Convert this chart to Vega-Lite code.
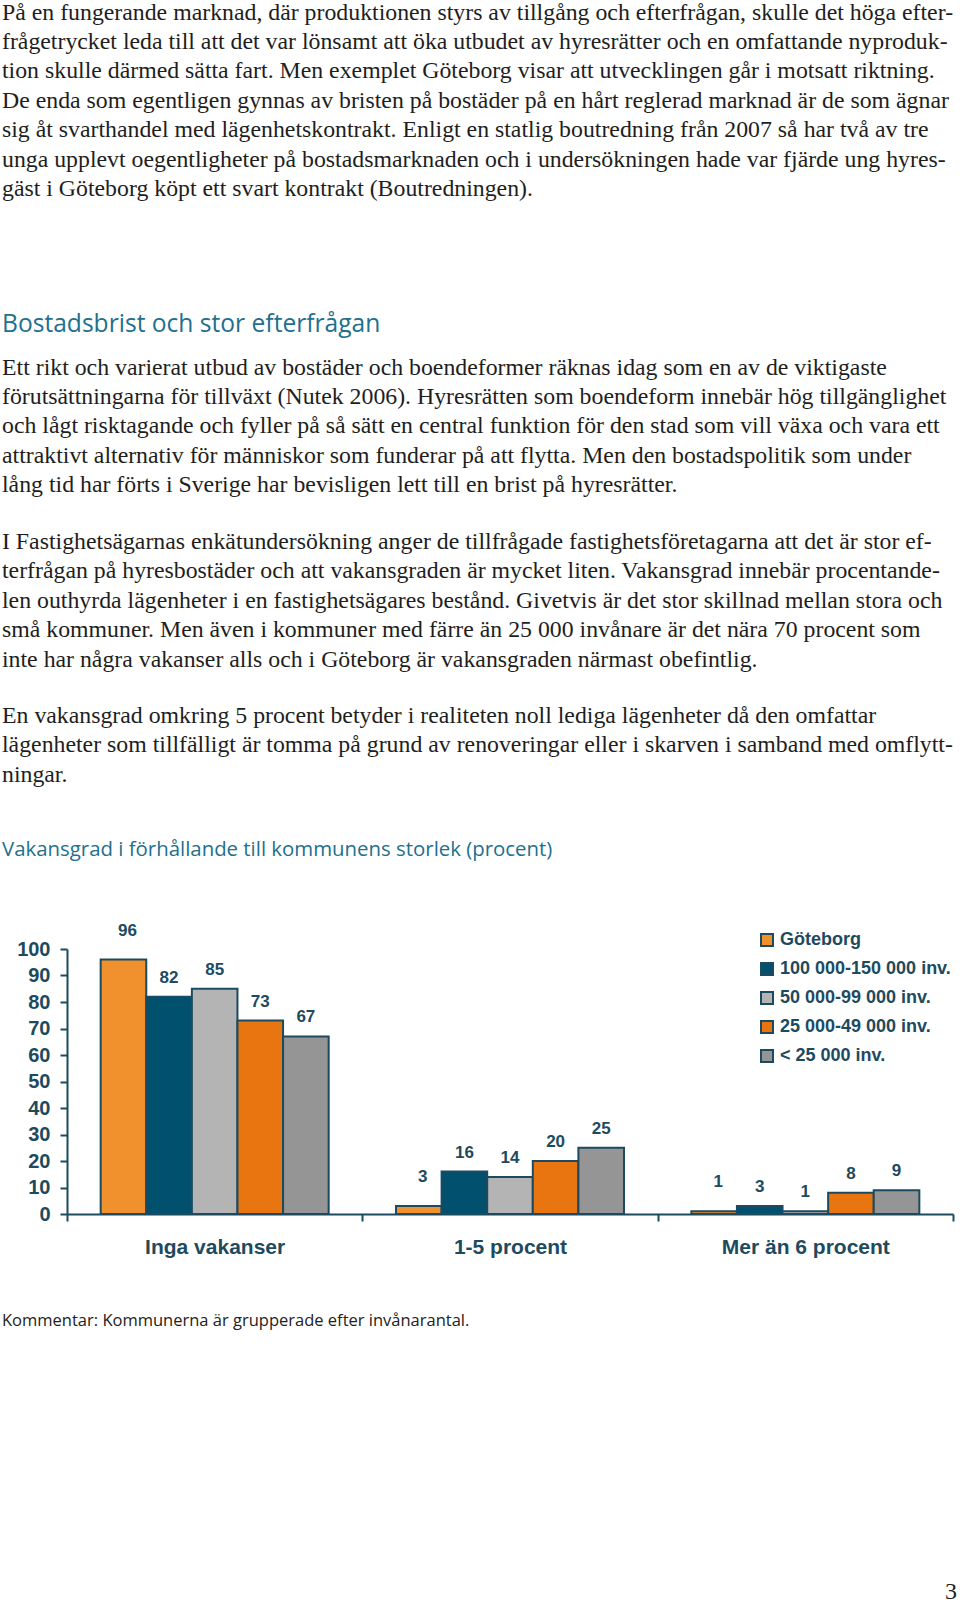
{
  "$schema": "https://vega.github.io/schema/vega-lite/v6.json",
  "padding": 0,
  "background": "white",
  "spacing": 0,
  "bounds": "flush",
  "config": {"view": {"stroke": null}, "concat": {"spacing": 0}},
  "datasets": {
    "prosa": [
      {"block": "p1", "line": 1, "text": "På en fungerande marknad, där produktionen styrs av tillgång och efterfrågan, skulle det höga efter-"},
      {"block": "p1", "line": 2, "text": "frågetrycket leda till att det var lönsamt att öka utbudet av hyresrätter och en omfattande nyproduk-"},
      {"block": "p1", "line": 3, "text": "tion skulle därmed sätta fart. Men exemplet Göteborg visar att utvecklingen går i motsatt riktning."},
      {"block": "p1", "line": 4, "text": "De enda som egentligen gynnas av bristen på bostäder på en hårt reglerad marknad är de som ägnar"},
      {"block": "p1", "line": 5, "text": "sig åt svarthandel med lägenhetskontrakt. Enligt en statlig boutredning från 2007 så har två av tre"},
      {"block": "p1", "line": 6, "text": "unga upplevt oegentligheter på bostadsmarknaden och i undersökningen hade var fjärde ung hyres-"},
      {"block": "p1", "line": 7, "text": "gäst i Göteborg köpt ett svart kontrakt (Boutredningen)."},
      {"block": "rubrik", "line": 1, "text": "Bostadsbrist och stor efterfrågan"},
      {"block": "p2", "line": 1, "text": "Ett rikt och varierat utbud av bostäder och boendeformer räknas idag som en av de viktigaste"},
      {"block": "p2", "line": 2, "text": "förutsättningarna för tillväxt (Nutek 2006). Hyresrätten som boendeform innebär hög tillgänglighet"},
      {"block": "p2", "line": 3, "text": "och lågt risktagande och fyller på så sätt en central funktion för den stad som vill växa och vara ett"},
      {"block": "p2", "line": 4, "text": "attraktivt alternativ för människor som funderar på att flytta. Men den bostadspolitik som under"},
      {"block": "p2", "line": 5, "text": "lång tid har förts i Sverige har bevisligen lett till en brist på hyresrätter."},
      {"block": "p3", "line": 1, "text": "I Fastighetsägarnas enkätundersökning anger de tillfrågade fastighetsföretagarna att det är stor ef-"},
      {"block": "p3", "line": 2, "text": "terfrågan på hyresbostäder och att vakansgraden är mycket liten. Vakansgrad innebär procentande-"},
      {"block": "p3", "line": 3, "text": "len outhyrda lägenheter i en fastighetsägares bestånd. Givetvis är det stor skillnad mellan stora och"},
      {"block": "p3", "line": 4, "text": "små kommuner. Men även i kommuner med färre än 25 000 invånare är det nära 70 procent som"},
      {"block": "p3", "line": 5, "text": "inte har några vakanser alls och i Göteborg är vakansgraden närmast obefintlig."},
      {"block": "p4", "line": 1, "text": "En vakansgrad omkring 5 procent betyder i realiteten noll lediga lägenheter då den omfattar"},
      {"block": "p4", "line": 2, "text": "lägenheter som tillfälligt är tomma på grund av renoveringar eller i skarven i samband med omflytt-"},
      {"block": "p4", "line": 3, "text": "ningar."},
      {"block": "diagramrubrik", "line": 1, "text": "Vakansgrad i förhållande till kommunens storlek (procent)"}
    ],
    "fot": [
      {"block": "kommentar", "line": 1, "text": "Kommentar: Kommunerna är grupperade efter invånarantal."},
      {"block": "sidnummer", "line": 1, "text": "3"}
    ],
    "vakans": [
      {"grupp": "Inga vakanser", "serie": "Göteborg", "procent": 96},
      {"grupp": "Inga vakanser", "serie": "100 000-150 000 inv.", "procent": 82},
      {"grupp": "Inga vakanser", "serie": "50 000-99 000 inv.", "procent": 85},
      {"grupp": "Inga vakanser", "serie": "25 000-49 000 inv.", "procent": 73},
      {"grupp": "Inga vakanser", "serie": "< 25 000 inv.", "procent": 67},
      {"grupp": "1-5 procent", "serie": "Göteborg", "procent": 3},
      {"grupp": "1-5 procent", "serie": "100 000-150 000 inv.", "procent": 16},
      {"grupp": "1-5 procent", "serie": "50 000-99 000 inv.", "procent": 14},
      {"grupp": "1-5 procent", "serie": "25 000-49 000 inv.", "procent": 20},
      {"grupp": "1-5 procent", "serie": "< 25 000 inv.", "procent": 25},
      {"grupp": "Mer än 6 procent", "serie": "Göteborg", "procent": 1},
      {"grupp": "Mer än 6 procent", "serie": "100 000-150 000 inv.", "procent": 3},
      {"grupp": "Mer än 6 procent", "serie": "50 000-99 000 inv.", "procent": 1},
      {"grupp": "Mer än 6 procent", "serie": "25 000-49 000 inv.", "procent": 8},
      {"grupp": "Mer än 6 procent", "serie": "< 25 000 inv.", "procent": 9}
    ]
  },
  "vconcat": [
    {
      "width": 960,
      "height": 949,
      "data": {"name": "prosa"},
      "resolve": {"scale": {"y": "independent"}},
      "layer": [
        {
          "transform": [{"filter": "datum.block === 'p1'"}],
          "mark": {"type": "text", "align": "left", "baseline": "alphabetic", "font": "Liberation Serif", "fontSize": 23.8, "color": "#1e1e1e", "dx": 2},
          "encoding": {
            "x": {"datum": 0, "type": "quantitative", "scale": {"domain": [0, 1]}, "axis": null},
            "y": {"field": "line", "type": "quantitative", "scale": {"domain": [0.33786, 32.56196], "reverse": true, "nice": false, "zero": false}, "axis": null},
            "text": {"field": "text", "type": "nominal"}
          }
        },
        {
          "transform": [{"filter": "datum.block === 'rubrik'"}],
          "mark": {"type": "text", "align": "left", "baseline": "alphabetic", "font": "Open Sans", "fontSize": 24.6, "color": "#226f8e", "dx": 2},
          "encoding": {
            "x": {"datum": 0, "type": "quantitative", "scale": {"domain": [0, 1]}, "axis": null},
            "y": {"field": "line", "type": "quantitative", "scale": {"domain": [-10.25637, 21.96773], "reverse": true, "nice": false, "zero": false}, "axis": null},
            "text": {"field": "text", "type": "nominal"}
          }
        },
        {
          "transform": [{"filter": "datum.block === 'p2'"}],
          "mark": {"type": "text", "align": "left", "baseline": "alphabetic", "font": "Liberation Serif", "fontSize": 23.8, "color": "#1e1e1e", "dx": 2},
          "encoding": {
            "x": {"datum": 0, "type": "quantitative", "scale": {"domain": [0, 1]}, "axis": null},
            "y": {"field": "line", "type": "quantitative", "scale": {"domain": [-11.71647, 20.50763], "reverse": true, "nice": false, "zero": false}, "axis": null},
            "text": {"field": "text", "type": "nominal"}
          }
        },
        {
          "transform": [{"filter": "datum.block === 'p3'"}],
          "mark": {"type": "text", "align": "left", "baseline": "alphabetic", "font": "Liberation Serif", "fontSize": 23.8, "color": "#1e1e1e", "dx": 2},
          "encoding": {
            "x": {"datum": 0, "type": "quantitative", "scale": {"domain": [0, 1]}, "axis": null},
            "y": {"field": "line", "type": "quantitative", "scale": {"domain": [-17.64177, 14.58233], "reverse": true, "nice": false, "zero": false}, "axis": null},
            "text": {"field": "text", "type": "nominal"}
          }
        },
        {
          "transform": [{"filter": "datum.block === 'p4'"}],
          "mark": {"type": "text", "align": "left", "baseline": "alphabetic", "font": "Liberation Serif", "fontSize": 23.8, "color": "#1e1e1e", "dx": 2},
          "encoding": {
            "x": {"datum": 0, "type": "quantitative", "scale": {"domain": [0, 1]}, "axis": null},
            "y": {"field": "line", "type": "quantitative", "scale": {"domain": [-23.54997, 8.67413], "reverse": true, "nice": false, "zero": false}, "axis": null},
            "text": {"field": "text", "type": "nominal"}
          }
        },
        {
          "transform": [{"filter": "datum.block === 'diagramrubrik'"}],
          "mark": {"type": "text", "align": "left", "baseline": "alphabetic", "font": "Open Sans", "fontSize": 20.4, "color": "#226f8e", "dx": 2},
          "encoding": {
            "x": {"datum": 0, "type": "quantitative", "scale": {"domain": [0, 1]}, "axis": null},
            "y": {"field": "line", "type": "quantitative", "scale": {"domain": [-28.06621, 4.15789], "reverse": true, "nice": false, "zero": false}, "axis": null},
            "text": {"field": "text", "type": "nominal"}
          }
        }
      ]
    },
    {
      "width": 953,
      "height": 265,
      "data": {"name": "vakans"},
      "encoding": {
        "x": {
          "field": "grupp", "type": "nominal",
          "sort": ["Inga vakanser", "1-5 procent", "Mer än 6 procent"],
          "scale": {"paddingInner": 0, "paddingOuter": 0, "range": [67, 953]},
          "axis": {
            "title": null, "labelAngle": 0, "tickBand": "extent", "tickSize": 7, "tickWidth": 2,
            "tickColor": "#1b4a61", "domainColor": "#1b4a61", "domainWidth": 2,
            "labelFont": "Liberation Sans", "labelFontWeight": "bold", "labelFontSize": 21,
            "labelColor": "#1e4a60", "labelPadding": 15, "labelLimit": 400
          }
        },
        "xOffset": {
          "field": "serie", "type": "nominal",
          "sort": ["Göteborg", "100 000-150 000 inv.", "50 000-99 000 inv.", "25 000-49 000 inv.", "< 25 000 inv."],
          "scale": {"paddingInner": 0, "paddingOuter": 0.7383}
        },
        "y": {
          "field": "procent", "type": "quantitative",
          "scale": {"domain": [0, 100], "nice": false},
          "axis": {
            "title": null, "values": [0, 10, 20, 30, 40, 50, 60, 70, 80, 90, 100], "grid": false, "offset": -67,
            "tickSize": 7, "tickWidth": 2, "tickColor": "#1b4a61", "domainColor": "#1b4a61", "domainWidth": 2,
            "labelFont": "Liberation Sans", "labelFontWeight": "bold", "labelFontSize": 20,
            "labelColor": "#1e4a60", "labelPadding": 10, "labelFlush": false, "labelOverlap": false
          }
        }
      },
      "layer": [
        {
          "mark": {"type": "bar", "stroke": "#1b4a61", "strokeWidth": 2},
          "encoding": {
            "color": {
              "field": "serie", "type": "nominal",
              "scale": {
                "domain": ["Göteborg", "100 000-150 000 inv.", "50 000-99 000 inv.", "25 000-49 000 inv.", "< 25 000 inv."],
                "range": ["#F0912D", "#00506E", "#B4B4B4", "#E8750F", "#959595"]
              },
              "legend": {
                "orient": "none", "legendX": 758, "legendY": 931, "title": null, "padding": 0,
                "symbolType": "square", "symbolSize": 144, "symbolStrokeColor": "#1b4a61", "symbolStrokeWidth": 2,
                "symbolOpacity": 1,
                "labelFont": "Liberation Sans", "labelFontWeight": "bold", "labelFontSize": 18,
                "labelColor": "#1e4a60", "labelOffset": 4, "rowPadding": 9, "labelLimit": 400
              }
            }
          }
        },
        {
          "transform": [{"filter": "datum.serie === 'Göteborg'"}],
          "mark": {"type": "text", "baseline": "middle", "dy": -29, "dx": 4, "font": "Liberation Sans", "fontWeight": "bold", "fontSize": 17, "color": "#1e4a60"},
          "encoding": {"text": {"field": "procent", "type": "quantitative"}}
        },
        {
          "transform": [{"filter": "datum.serie !== 'Göteborg'"}],
          "mark": {"type": "text", "baseline": "middle", "dy": -19, "font": "Liberation Sans", "fontWeight": "bold", "fontSize": 17, "color": "#1e4a60"},
          "encoding": {"text": {"field": "procent", "type": "quantitative"}}
        }
      ]
    },
    {
      "width": 960,
      "height": 389,
      "data": {"name": "fot"},
      "resolve": {"scale": {"y": "independent"}},
      "layer": [
        {
          "transform": [{"filter": "datum.block === 'kommentar'"}],
          "mark": {"type": "text", "align": "left", "baseline": "alphabetic", "font": "Open Sans", "fontSize": 16.5, "color": "#222222", "dx": 2},
          "encoding": {
            "x": {"datum": 0, "type": "quantitative", "scale": {"domain": [0, 1]}, "axis": null},
            "y": {"field": "line", "type": "quantitative", "scale": {"domain": [-2.80306, 10.40577], "reverse": true, "nice": false, "zero": false}, "axis": null},
            "text": {"field": "text", "type": "nominal"}
          }
        },
        {
          "transform": [{"filter": "datum.block === 'sidnummer'"}],
          "mark": {"type": "text", "align": "right", "baseline": "alphabetic", "font": "Liberation Serif", "fontSize": 24, "color": "#1e1e1e", "dx": -3},
          "encoding": {
            "x": {"datum": 1, "type": "quantitative", "scale": {"domain": [0, 1]}, "axis": null},
            "y": {"field": "line", "type": "quantitative", "scale": {"domain": [-12.07301, 1.13582], "reverse": true, "nice": false, "zero": false}, "axis": null},
            "text": {"field": "text", "type": "nominal"}
          }
        }
      ]
    }
  ]
}
